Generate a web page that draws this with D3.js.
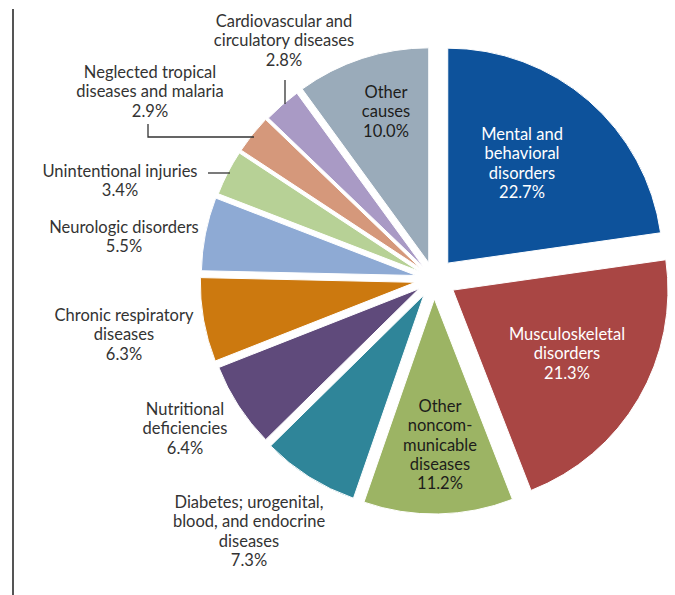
<!DOCTYPE html>
<html>
<head>
<meta charset="utf-8">
<script src="https://cdn.jsdelivr.net/npm/d3@7"></script>
<style>
  body { margin: 0; background: #fff; }
  svg text { font-family: Lato, "Open Sans", sans-serif; font-size: 16.5px; }
</style>
</head>
<body>
<svg id="chart" width="675" height="595"></svg>
<script>
// data, clockwise from 12 o'clock
const categories = [
  'Mental and behavioral disorders',
  'Musculoskeletal disorders',
  'Other noncommunicable diseases',
  'Diabetes; urogenital, blood, and endocrine diseases',
  'Nutritional deficiencies',
  'Chronic respiratory diseases',
  'Neurologic disorders',
  'Unintentional injuries',
  'Neglected tropical diseases and malaria',
  'Cardiovascular and circulatory diseases',
  'Other causes'
];
const values = [22.7, 21.3, 11.2, 7.3, 6.4, 6.3, 5.5, 3.4, 2.9, 2.8, 10.0];
const labelLines = [
  ['Mental and', 'behavioral', 'disorders'],
  ['Musculoskeletal', 'disorders'],
  ['Other', 'noncom-', 'municable', 'diseases'],
  ['Diabetes; urogenital,', 'blood, and endocrine', 'diseases'],
  ['Nutritional', 'deficiencies'],
  ['Chronic respiratory', 'diseases'],
  ['Neurologic disorders'],
  ['Unintentional injuries'],
  ['Neglected tropical', 'diseases and malaria'],
  ['Cardiovascular and', 'circulatory diseases'],
  ['Other', 'causes']
];

// styling
const colors = ['#0d529b', '#a94644', '#9cb464', '#2f8599', '#5f4a7b',
  '#cc790f', '#8eaad4', '#b7d196', '#d5987b', '#a99ac5', '#9aabba'];
const textColors = ['#fff', '#fff', '#1d1d1b', '#333', '#333', '#333',
  '#333', '#333', '#333', '#333', '#1d1d1b'];
const explode = [21, 22, 20, 19, 18, 19, 18, 17, 17, 16, 17];
// label anchor: [center x, first baseline]
const labelPos = [[522, 140], [567, 340], [440, 412], [249, 508], [185, 415],
  [124, 321], [124, 233], [120, 177], [150, 78], [284, 27], [386, 98]];
const leaders = [
  [[285, 80], [285, 104]],
  [[148, 124], [148, 137], [254, 137]],
  [[208, 173], [230, 173]]
];

const cx = 434, cy = 279, r = 215, lh = 19.3;

const svg = d3.select('#chart');

svg.append('line')
  .attr('x1', 13).attr('x2', 13)
  .attr('y1', 9).attr('y2', 595)
  .attr('stroke', '#555')
  .attr('stroke-width', 2);

const pie = d3.pie().sort(null).value(d => d);
const arc = d3.arc().innerRadius(0).outerRadius(r);
const arcs = pie(values);

const g = svg.append('g').attr('transform', `translate(${cx},${cy})`);

g.selectAll('path')
  .data(arcs)
  .enter()
  .append('path')
  .attr('d', arc)
  .attr('fill', (d, i) => colors[i])
  .attr('stroke', '#fff')
  .attr('stroke-width', 1)
  .attr('transform', (d, i) => {
    const a = (d.startAngle + d.endAngle) / 2;
    return `translate(${explode[i] * Math.sin(a)},${-explode[i] * Math.cos(a)})`;
  });

svg.selectAll('polyline.leader')
  .data(leaders)
  .enter()
  .append('polyline')
  .attr('class', 'leader')
  .attr('points', d => d.map(p => p.join(',')).join(' '))
  .attr('fill', 'none')
  .attr('stroke', '#333')
  .attr('stroke-width', 1.3);

const labels = svg.selectAll('text.lbl')
  .data(arcs)
  .enter()
  .append('text')
  .attr('class', 'lbl')
  .attr('text-anchor', 'middle')
  .attr('fill', (d, i) => textColors[i]);

labels.each(function (d, i) {
  const t = d3.select(this);
  const lines = labelLines[i].concat([values[i].toFixed(1) + '%']);
  lines.forEach((s, k) => {
    t.append('tspan')
      .attr('x', labelPos[i][0])
      .attr('y', labelPos[i][1] + k * lh)
      .text(s);
  });
});
</script>
</body>
</html>
